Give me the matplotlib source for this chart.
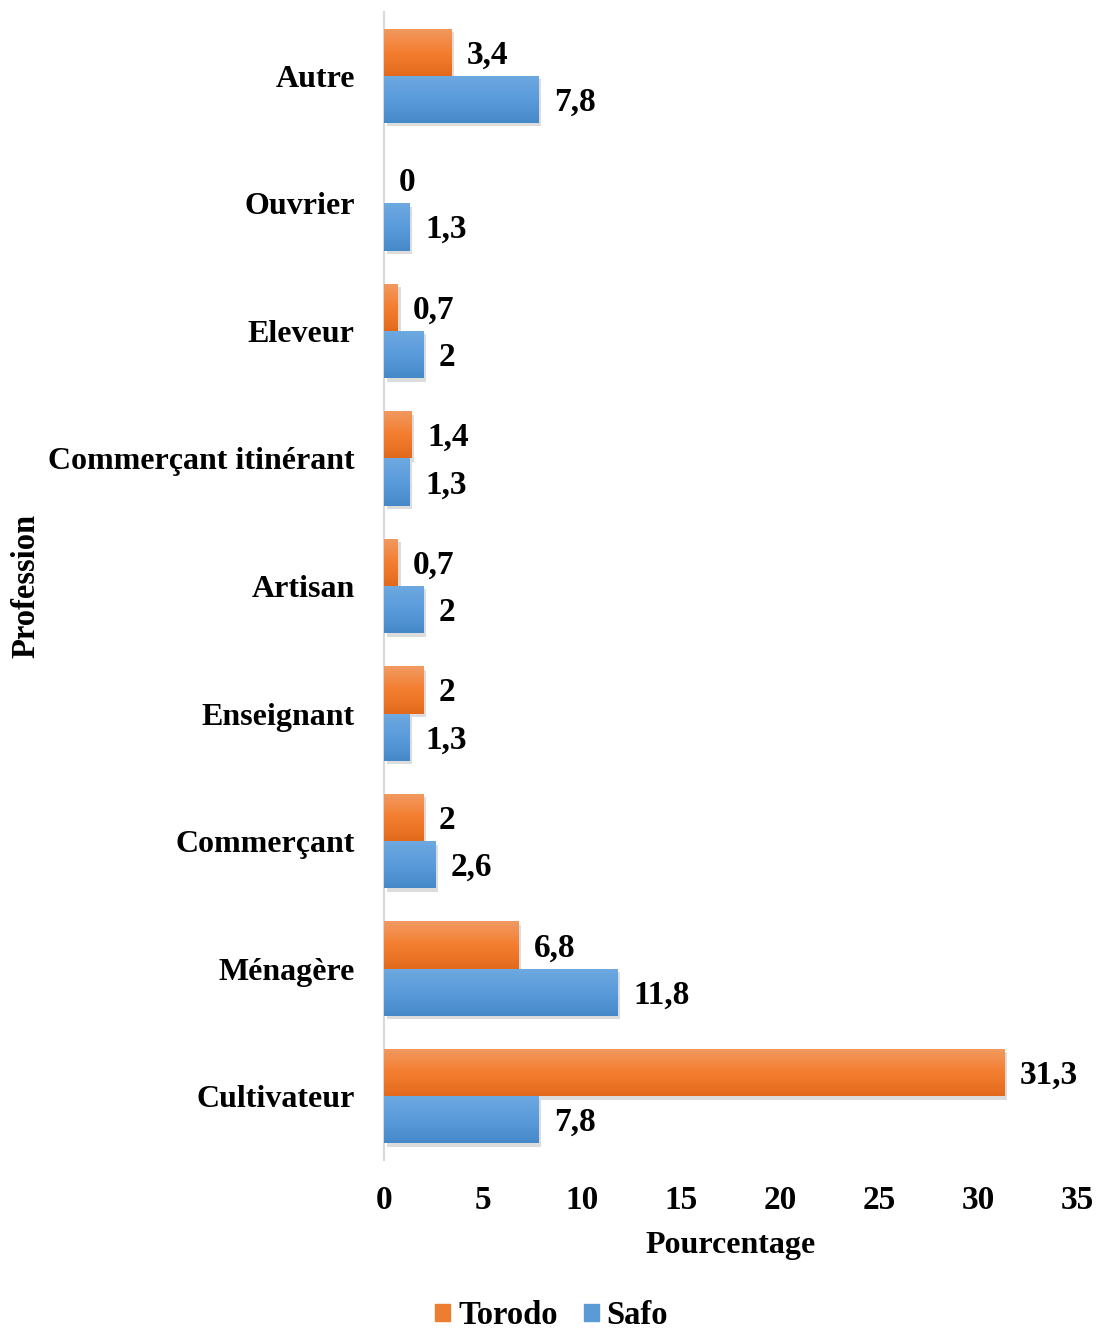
import matplotlib
matplotlib.use("Agg")
import matplotlib.pyplot as plt
import matplotlib.patheffects as pe
import numpy as np
from matplotlib.colors import LinearSegmentedColormap

categories = ["Cultivateur", "Ménagère", "Commerçant", "Enseignant", "Artisan",
              "Commerçant itinérant", "Eleveur", "Ouvrier", "Autre"]
torodo = [31.3, 6.8, 2, 2, 0.7, 1.4, 0.7, 0, 3.4]
safo = [7.8, 11.8, 2.6, 1.3, 2, 1.3, 2, 1.3, 7.8]
xticks = [0, 5, 10, 15, 20, 25, 30, 35]

plt.rcParams['font.family'] = ['Liberation Serif', 'DejaVu Serif']
plt.rcParams['font.weight'] = 'bold'

fig = plt.figure(figsize=(10.97, 13.31), dpi=100)
ax = fig.add_axes([0.350, 0.1285, 0.632, 0.8625])

y = np.arange(len(categories))
h = 0.37
orange = "#ED7D31"
blue = "#5B9BD5"
cmap_o = LinearSegmentedColormap.from_list("o", ["#F19A62", "#F47E30", "#E36A1C"])
cmap_b = LinearSegmentedColormap.from_list("b", ["#6EA9E0", "#5A9BDB", "#4689C9"])

shadow = [pe.SimplePatchShadow(offset=(2, -2.5), shadow_rgbFace="#777777", alpha=0.25), pe.Normal()]

def fmt(v):
    if float(v).is_integer():
        return str(int(v))
    return str(v).replace('.', ',')

bars_t = ax.barh(y + h / 2, torodo, height=h, color=orange, label="Torodo", zorder=2)
bars_s = ax.barh(y - h / 2, safo, height=h, color=blue, label="Safo", zorder=2)

grad = np.linspace(0, 1, 100).reshape(-1, 1)
for bars, cm in ((bars_t, cmap_o), (bars_s, cmap_b)):
    for b in bars:
        if b.get_width() > 0:
            b.set_path_effects(shadow)
            x0, y0 = b.get_x(), b.get_y()
            im = ax.imshow(grad, cmap=cm, aspect='auto', origin='upper',
                           extent=[x0, x0 + b.get_width(), y0, y0 + b.get_height()],
                           zorder=3)
            im.set_clip_path(b)

for vals, off in ((torodo, h / 2), (safo, -h / 2)):
    for yi, v in zip(y, vals):
        ax.annotate(fmt(v), (v, yi + off), xytext=(11, -2), textcoords='offset points',
                    va='center', ha='left', fontsize=24, fontweight='bold', zorder=4)

ax.set_xlim(0, 35)
ax.set_ylim(-0.5, len(categories) - 0.5)
ax.set_xticks(xticks)
ax.set_xticklabels([str(t) for t in xticks], fontsize=24, fontweight='bold')
ax.set_yticks(y)
ax.set_yticklabels(categories, fontsize=23, fontweight='bold')
ax.tick_params(axis='both', length=0)
ax.tick_params(axis='y', pad=21)
ax.tick_params(axis='x', pad=18)
for s in ("top", "right", "bottom"):
    ax.spines[s].set_visible(False)
ax.spines["left"].set_color("#D9D9D9")
ax.spines["left"].set_linewidth(1.5)

ax.set_xlabel("Pourcentage", fontsize=23, fontweight='bold', labelpad=11)
fig.text(0.024, 0.56, "Profession", rotation=90, fontsize=23.5, fontweight='bold',
         ha='center', va='center')

handles = [plt.Rectangle((0, 0), 1, 1, color=orange), plt.Rectangle((0, 0), 1, 1, color=blue)]
fig.legend(handles, ["Torodo", "Safo"], loc='center', bbox_to_anchor=(0.503, 0.0115),
           ncol=2, frameon=False, handlelength=0.45, handleheight=0.45,
           handletextpad=0.25, columnspacing=0.8, prop={'size': 23.5, 'weight': 'bold'})

fig.savefig("out.png", dpi=100)
